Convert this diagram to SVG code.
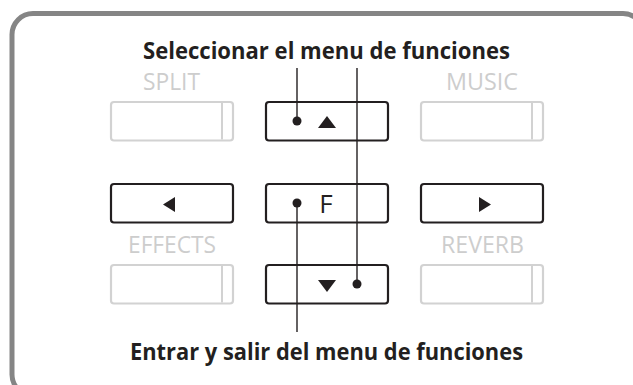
<svg xmlns="http://www.w3.org/2000/svg" width="633" height="385" viewBox="0 0 633 385">
<style>
.frame{fill:none;stroke:#858585;stroke-width:5}
.btn{fill:#fff;stroke:#231f20;stroke-width:2.2}
.gbtn{fill:#fff;stroke:#d2d2d2;stroke-width:2.2}
.gdiv{stroke:#d2d2d2;stroke-width:2}
.glabel{font-family:"Open Sans","Liberation Sans",sans-serif;font-size:23px;fill:#cdcdcd;text-anchor:middle}
.title{font-family:"Open Sans","Liberation Sans",sans-serif;font-size:22.5px;font-weight:bold;fill:#231f20;text-anchor:middle}
.sym{fill:#231f20}
.conn{stroke:#231f20;stroke-width:1.4;fill:none}
.ftext{font-family:"Open Sans","Liberation Sans",sans-serif;font-size:26px;fill:#231f20;text-anchor:middle}
</style>
<rect class="frame" x="12" y="13.5" width="632" height="382" rx="21"/>
<text class="title" x="326.5" y="59" textLength="367" lengthAdjust="spacingAndGlyphs">Seleccionar el menu de funciones</text>
<text class="title" x="326.5" y="360" textLength="393" lengthAdjust="spacingAndGlyphs">Entrar y salir del menu de funciones</text>
<g id="split">
<text class="glabel" x="171.5" y="90" textLength="57" lengthAdjust="spacingAndGlyphs">SPLIT</text>
<rect class="gbtn" x="111" y="102" width="122" height="38.5" rx="3"/>
<line class="gdiv" x1="222" y1="103" x2="222" y2="139.5"/>
</g>
<g id="music">
<text class="glabel" x="482" y="90" textLength="72" lengthAdjust="spacingAndGlyphs">MUSIC</text>
<rect class="gbtn" x="421" y="102" width="122" height="38.5" rx="3"/>
<line class="gdiv" x1="532" y1="103" x2="532" y2="139.5"/>
</g>
<g id="effects">
<text class="glabel" x="172" y="253" textLength="88" lengthAdjust="spacingAndGlyphs">EFFECTS</text>
<rect class="gbtn" x="111" y="265" width="122" height="38.5" rx="3"/>
<line class="gdiv" x1="222" y1="266" x2="222" y2="302.5"/>
</g>
<g id="reverb">
<text class="glabel" x="482.5" y="253" textLength="83" lengthAdjust="spacingAndGlyphs">REVERB</text>
<rect class="gbtn" x="421" y="265" width="122" height="38.5" rx="3"/>
<line class="gdiv" x1="532" y1="266" x2="532" y2="302.5"/>
</g>
<g id="up">
<rect class="btn" x="266" y="102" width="122" height="38.5" rx="3"/>
<polygon class="sym" points="318,128 336,128 327,116"/>
</g>
<g id="left">
<rect class="btn" x="111" y="184" width="122" height="38.5" rx="3"/>
<polygon class="sym" points="163,204.5 175,197 175,212"/>
</g>
<g id="f">
<rect class="btn" x="266" y="184" width="122" height="38.5" rx="3"/>
<text class="ftext" x="326" y="213">F</text>
</g>
<g id="right">
<rect class="btn" x="421" y="184" width="122" height="38.5" rx="3"/>
<polygon class="sym" points="491,204.5 479,197 479,212"/>
</g>
<g id="down">
<rect class="btn" x="266" y="265" width="122" height="38.5" rx="3"/>
<polygon class="sym" points="318,280 336,280 327,292"/>
</g>
<g id="connectors">
<line class="conn" x1="297" y1="68" x2="297" y2="121"/>
<circle class="sym" cx="297" cy="121" r="4.5"/>
<line class="conn" x1="357" y1="68" x2="357" y2="284"/>
<circle class="sym" cx="357" cy="284" r="4.5"/>
<line class="conn" x1="297" y1="203" x2="297" y2="332"/>
<circle class="sym" cx="297" cy="203" r="4.5"/>
</g>
</svg>
